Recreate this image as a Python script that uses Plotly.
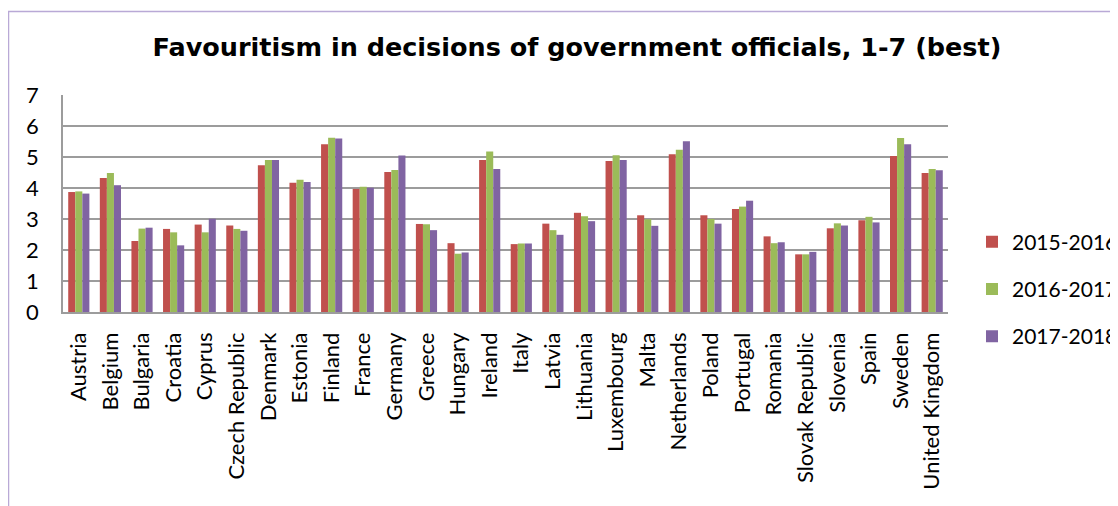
import plotly.graph_objects as go

countries = ["Austria", "Belgium", "Bulgaria", "Croatia", "Cyprus", "Czech Republic",
             "Denmark", "Estonia", "Finland", "France", "Germany", "Greece", "Hungary",
             "Ireland", "Italy", "Latvia", "Lithuania", "Luxembourg", "Malta", "Netherlands",
             "Poland", "Portugal", "Romania", "Slovak Republic", "Slovenia", "Spain",
             "Sweden", "United Kingdom"]

v2015_2016 = [3.87, 4.32, 2.29, 2.68, 2.82, 2.79, 4.73, 4.17, 5.41, 3.97, 4.52, 2.84, 2.22,
              4.90, 2.19, 2.85, 3.20, 4.87, 3.12, 5.09, 3.12, 3.32, 2.44, 1.86, 2.70, 2.96,
              5.03, 4.48]
v2016_2017 = [3.89, 4.48, 2.69, 2.57, 2.57, 2.68, 4.90, 4.27, 5.62, 4.04, 4.58, 2.83, 1.88,
              5.18, 2.21, 2.64, 3.09, 5.06, 2.99, 5.23, 3.00, 3.40, 2.22, 1.86, 2.86, 3.07,
              5.61, 4.61]
v2017_2018 = [3.82, 4.09, 2.72, 2.15, 3.01, 2.62, 4.90, 4.19, 5.60, 4.01, 5.05, 2.64, 1.92,
              4.61, 2.21, 2.49, 2.93, 4.90, 2.78, 5.51, 2.85, 3.59, 2.25, 1.94, 2.79, 2.89,
              5.41, 4.57]

series = [("2015-2016", v2015_2016, "#C0504D"),
          ("2016-2017", v2016_2017, "#9BBB59"),
          ("2017-2018", v2017_2018, "#8064A2")]

fig = go.Figure()
for i, (name, vals, color) in enumerate(series):
    fig.add_trace(go.Bar(x=countries, y=vals, name=name, marker_color=color,
                         marker_line_width=0, legendgroup="g%d" % i))

# page body has an 8px margin; work in screen pixels and subtract it
O = 8
W, H = 1118 - O, 506 - O
L, R, T, B = 63 - O, 948 - O, 95 - O, 312 - O


def px(x):
    return (x - O - L) / (R - L)


def py(y):
    return (B - (y - O)) / (B - T)


fig.update_layout(
    width=W, height=H,
    margin=dict(l=L, r=W - R, t=T, b=H - B, autoexpand=False),
    paper_bgcolor="white", plot_bgcolor="white",
    barmode="group", bargap=0.33, bargroupgap=0,
    title=dict(text="<b>Favouritism in decisions of government officials, 1-7 (best)</b>",
               x=(577 - O) / W, xanchor="center", xref="container",
               y=1 - (47 - O) / H, yanchor="middle", yref="container",
               font=dict(family="DejaVu Sans", size=25.5, color="black")),
    font=dict(family="Lato", color="black"),
    legend=dict(x=px(972), xanchor="left", y=py(289), yanchor="middle",
                font=dict(family="Lato", size=21, color="black"),
                traceorder="grouped", tracegroupgap=17, bgcolor="rgba(0,0,0,0)"),
    showlegend=True,
    xaxis=dict(tickangle=-90, tickfont=dict(family="Lato", size=22, color="black"),
               showline=True, linecolor="#9c9c9c", linewidth=1.5, ticks="",
               ticklabelstandoff=10, showgrid=False),
    yaxis=dict(range=[0, 7], dtick=1, tickfont=dict(family="Lato", size=22, color="black"),
               showline=True, linecolor="#9c9c9c", linewidth=1.5,
               showgrid=True, gridcolor="#9c9c9c", gridwidth=1.5, zeroline=False,
               ticks="", ticklabelstandoff=18),
    shapes=[dict(type="rect", xref="paper", yref="paper",
                 x0=px(8.5), x1=px(1140),
                 y0=py(540), y1=py(11.5),
                 line=dict(color="#B9A9D6", width=1.5), fillcolor="rgba(0,0,0,0)",
                 layer="below")],
)

fig.write_html("out.html")
